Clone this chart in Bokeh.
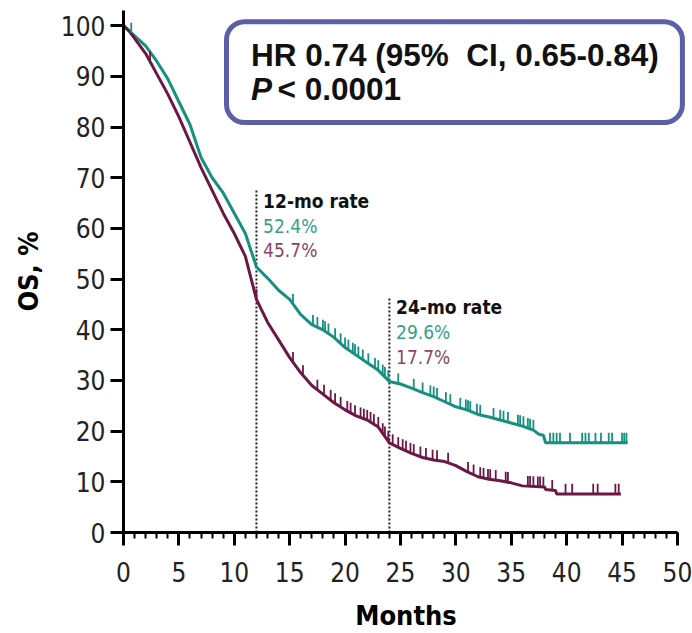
from bokeh.plotting import figure
from bokeh.models import Range1d, BoxAnnotation, Label, FixedTicker
from bokeh.embed import file_html
from bokeh.resources import INLINE
import numpy as np

# ---------------- data ----------------
teal_t = [0, 0.5, 1, 2, 3, 4, 5, 6, 7, 8, 9, 10, 11, 12, 13, 14, 15, 16, 17, 18, 19, 20,
          21, 22, 23, 24, 25, 26, 27, 28, 29, 30, 31, 32, 33, 34, 35, 36, 37, 37.5, 37.9, 38.1, 45.5]
teal_v = [100, 99, 98, 96, 93, 89.5, 85, 80.5, 74, 70, 67, 63, 59, 52.4, 50.2, 47.8, 46, 43, 41, 40, 38.5, 36.5,
          35, 33.5, 32, 29.8, 29.3, 28.5, 27.6, 26.8, 25.8, 24.8, 24.2, 23.3, 22.8, 22.2, 21.6, 21, 20.2, 19.4, 19.2, 17.7, 17.7]

maroon_t = [0, 0.5, 1, 2, 3, 4, 5, 6, 7, 8, 9, 10, 11, 12, 13, 14, 15, 16, 17, 18, 19, 20,
            21, 22, 23, 24, 25, 26, 27, 28, 29, 30, 31, 32, 33, 34, 35, 36, 38, 38.1, 39, 39.1, 44.9]
maroon_v = [100, 99, 97.5, 94.5, 90.5, 86.5, 82, 77, 72, 67.5, 63, 59, 54.5, 46, 41.5, 38, 34.5, 31.5, 29, 27.3, 25.6, 24.2,
            23, 22.2, 20.8, 17.7, 16.6, 15.6, 14.8, 14.3, 14, 13.2, 12, 11, 10.5, 10.2, 9.8, 9.2, 9.0, 8.5, 8.3, 7.6, 7.6]

teal_censor = [0.7, 15.3, 17.1, 17.5, 18.0, 18.2, 18.5, 19.1, 19.6, 20.0, 20.3, 20.7, 20.9, 21.2, 21.6,
               22.1, 22.7, 23.0, 23.4, 23.6, 23.9, 24.8, 26.2, 27.0, 27.7, 28.0, 28.3, 29.1, 29.5, 30.4,
               30.9, 31.1, 31.3, 31.9, 32.2, 33.4, 34.0, 34.3, 34.7, 35.6, 35.8, 36.1, 36.5, 36.7, 37.0,
               38.5, 38.8, 39.1, 39.4, 40.3, 41.4, 41.7, 42.0, 42.6, 43.1, 43.8, 44.1, 45.0, 45.2, 45.4]
maroon_censor = [2.4, 12.0, 15.3, 16.2, 17.5, 18.1, 18.7, 19.1, 19.6, 20.2, 20.5, 20.9, 21.4, 21.7, 22.0,
                 22.3, 22.6, 23.0, 23.4, 23.6, 23.9, 24.3, 24.8, 25.2, 25.5, 25.9, 26.2, 26.8, 27.3, 27.9,
                 28.3, 29.3, 31.1, 31.6, 32.2, 32.5, 32.9, 33.1, 33.6, 34.5, 34.7, 36.5, 36.7, 37.0, 37.4,
                 37.6, 37.9, 38.7, 39.9, 40.5, 42.4, 42.8, 44.4, 44.7]

landmark_t = [12, 24]
landmark_top = [67.5, 46.5]
landmark_titles = ["12-mo rate", "24-mo rate"]
teal_rates = ["52.4%", "29.6%"]
maroon_rates = ["45.7%", "17.7%"]

x_ticks = [0, 5, 10, 15, 20, 25, 30, 35, 40, 45, 50]
x_minor = list(range(0, 51))
y_ticks = [0, 10, 20, 30, 40, 50, 60, 70, 80, 90, 100]

x_title = "Months"
y_title = "OS, %"
hr_text = "HR 0.74 (95%\u00a0\u00a0CI, 0.65-0.84)"
p_label = "P"
p_value = "< 0.0001"

TEAL = "#17907f"
MAROON = "#6b1846"
TEAL_TXT = "#3a9c8f"
MAROON_TXT = "#8a4569"
NARROW = "DejaVu Sans Condensed"
SANS = "Liberation Sans"

# ---------------- figure ----------------
p = figure(width=692, height=633, output_backend="svg", toolbar_location=None,
           x_range=Range1d(0, 51), y_range=Range1d(0, 103),
           min_border_left=123, min_border_right=4, min_border_top=10, min_border_bottom=100)
p.outline_line_color = None
p.xgrid.visible = False
p.ygrid.visible = False
p.background_fill_color = "white"

for ax in (p.xaxis[0], p.yaxis[0]):
    ax.axis_line_width = 3
    ax.axis_line_color = "black"
    ax.major_tick_line_width = 3
    ax.major_tick_line_color = "black"
    ax.major_tick_in = 0
    ax.major_tick_out = 13
    ax.minor_tick_in = 0
    ax.minor_tick_out = 6
    ax.minor_tick_line_width = 2
    ax.minor_tick_line_color = "black"
    ax.major_label_text_font = NARROW
    ax.major_label_text_font_size = "26px"
    ax.major_label_text_color = "#222222"
    ax.axis_label_text_font = NARROW
    ax.axis_label_text_font_style = "bold"
    ax.axis_label_text_font_size = "27px"
    ax.axis_label_text_color = "black"

p.xaxis.ticker = FixedTicker(ticks=x_ticks, minor_ticks=x_minor)
p.xaxis.bounds = (0, 50)
p.xaxis.axis_label = x_title
p.xaxis.major_label_standoff = 16
p.xaxis.axis_label_standoff = 15

p.yaxis.ticker = FixedTicker(ticks=y_ticks, minor_ticks=[])
p.yaxis.axis_label = y_title
p.yaxis.major_label_standoff = 5
p.yaxis.axis_label_standoff = 14

# landmark dotted lines
p.segment(x0=landmark_t, y0=[0, 0], x1=landmark_t, y1=landmark_top,
          line_color="#222222", line_width=2, line_dash="2 2")

# curves
p.line(teal_t, teal_v, line_color=TEAL, line_width=3)
p.line(maroon_t, maroon_v, line_color=MAROON, line_width=3)

# censor marks
tc = np.array(teal_censor)
tcv = np.interp(tc, teal_t, teal_v)
p.segment(x0=tc, y0=tcv, x1=tc, y1=tcv + 2.0, line_color=TEAL, line_width=1.8)
mc = np.array(maroon_censor)
mcv = np.interp(mc, maroon_t, maroon_v)
p.segment(x0=mc, y0=mcv, x1=mc, y1=mcv + 2.0, line_color=MAROON, line_width=1.8)

# landmark texts
for lt, top, title, tr, mr in zip(landmark_t, landmark_top, landmark_titles, teal_rates, maroon_rates):
    x = lt + 0.6
    p.add_layout(Label(x=x, y=top - 2.0, text=title, text_font=NARROW, text_font_style="bold",
                       text_font_size="19px", text_color="#111111", text_baseline="middle"))
    p.add_layout(Label(x=x, y=top - 7.0, text=tr, text_font=NARROW,
                       text_font_size="19px", text_color=TEAL_TXT, text_baseline="middle"))
    p.add_layout(Label(x=x, y=top - 11.8, text=mr, text_font=NARROW,
                       text_font_size="19px", text_color=MAROON_TXT, text_baseline="middle"))

# HR box
p.add_layout(BoxAnnotation(left=9.3, right=50.45, bottom=80.9, top=100.8,
                           fill_color="white", fill_alpha=1.0,
                           line_color="#5a5fa8", line_alpha=1.0, line_width=5,
                           border_radius=18, level="overlay"))
p.add_layout(Label(x=11.5, y=94.2, text=hr_text, text_font=SANS, text_font_style="bold",
                   text_font_size="31.5px", text_color="#111111", text_baseline="middle", level="overlay"))
p.add_layout(Label(x=11.5, y=87.5, text=p_label, text_font=SANS, text_font_style="bold italic",
                   text_font_size="31.5px", text_color="#111111", text_baseline="middle", level="overlay"))
p.add_layout(Label(x=13.9, y=87.5, text=p_value, text_font=SANS, text_font_style="bold",
                   text_font_size="31.5px", text_color="#111111", text_baseline="middle", level="overlay"))

open("out.html", "w").write(file_html(p, INLINE))
